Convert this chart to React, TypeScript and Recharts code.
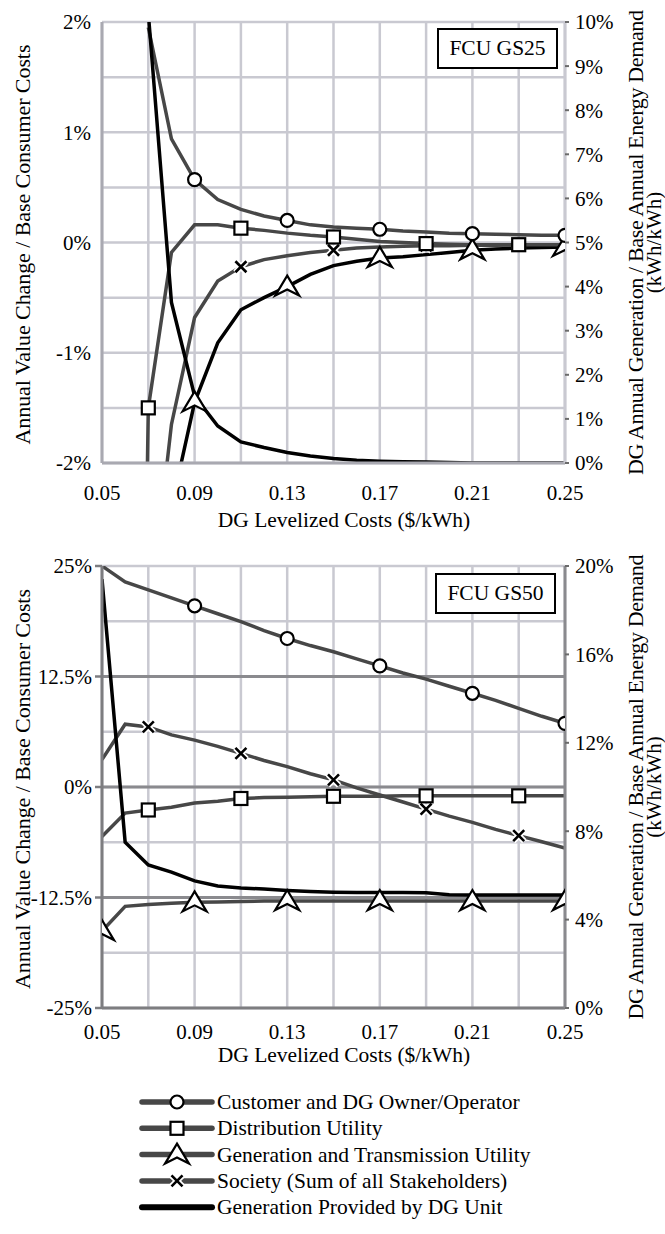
import React from "react";
import { LineChart, Line, XAxis, YAxis, CartesianGrid, Legend } from "recharts";

// DG levelized cost ($/kWh)
const costs = [
  0.05, 0.06, 0.07, 0.08, 0.09, 0.1, 0.11, 0.12, 0.13, 0.14, 0.15, 0.16, 0.17, 0.18, 0.19, 0.2, 0.21,
  0.22, 0.23, 0.24, 0.25,
];

// FCU GS25: annual value change / base consumer costs (%), generation in % of base demand
const gs25Customer = [null, null, 1.95, 0.94, 0.57, 0.39, 0.3, 0.24, 0.2, 0.16, 0.14, 0.13, 0.12, 0.105, 0.095, 0.085, 0.08, 0.075, 0.07, 0.065, 0.065];
const gs25Distribution = [null, -15, -1.5, -0.09, 0.16, 0.16, 0.13, 0.11, 0.085, 0.065, 0.05, 0.03, 0.01, 0, -0.01, -0.015, -0.02, -0.02, -0.02, -0.02, -0.02];
const gs25Transmission = [null, null, -4.0, -2.4, -1.45, -0.91, -0.61, -0.5, -0.4, -0.29, -0.21, -0.17, -0.14, -0.13, -0.11, -0.09, -0.07, -0.06, -0.05, -0.045, -0.04];
const gs25Society = [null, null, -3.5, -1.65, -0.68, -0.35, -0.22, -0.155, -0.12, -0.09, -0.07, -0.05, -0.04, -0.035, -0.03, -0.03, -0.025, -0.025, -0.02, -0.02, -0.02];
const gs25Generation = [null, null, 10.2, 3.64, 1.52, 0.84, 0.48, 0.35, 0.24, 0.16, 0.1, 0.06, 0.04, 0.03, 0.02, 0.01, 0, 0, 0, 0, 0];

// FCU GS50
const gs50Customer = [25.0, 23.2, 22.3, 21.4, 20.5, 19.6, 18.7, 17.7, 16.8, 16.0, 15.3, 14.5, 13.7, 12.9, 12.2, 11.4, 10.6, 9.8, 8.9, 8.0, 7.2];
const gs50Distribution = [-5.6, -2.95, -2.6, -2.3, -1.8, -1.6, -1.3, -1.2, -1.15, -1.1, -1.05, -1.05, -1.05, -1.0, -1.0, -1.0, -1.0, -1.0, -1.0, -1.0, -1.0];
const gs50Transmission = [-16.3, -13.5, -13.3, -13.15, -13.05, -13.0, -12.95, -12.9, -12.9, -12.9, -12.9, -12.9, -12.9, -12.9, -12.9, -12.9, -12.9, -12.9, -12.9, -12.9, -12.9];
const gs50Society = [3.1, 7.1, 6.8, 5.9, 5.3, 4.6, 3.8, 3.0, 2.3, 1.5, 0.8, -0.1, -0.9, -1.7, -2.5, -3.3, -4.0, -4.8, -5.5, -6.2, -6.9];
const gs50Generation = [19.4, 7.5, 6.47, 6.15, 5.75, 5.52, 5.43, 5.38, 5.32, 5.27, 5.24, 5.23, 5.23, 5.23, 5.22, 5.13, 5.11, 5.11, 5.11, 5.11, 5.11];

// where the markers sit on each curve
const circleAt = [0.09, 0.13, 0.17, 0.21, 0.25];
const squareAt = [0.07, 0.11, 0.15, 0.19, 0.23];
const gs25TriangleAt = [0.09, 0.13, 0.17, 0.21, 0.25];
const gs50TriangleAt = [0.05, 0.09, 0.13, 0.17, 0.21, 0.25];
const gs25CrossAt = [0.11, 0.15, 0.19, 0.23];
const gs50CrossAt = [0.07, 0.11, 0.15, 0.19, 0.23];

const xTicks = [0.05, 0.09, 0.13, 0.17, 0.21, 0.25];
const xGrid = [0.05, 0.07, 0.09, 0.11, 0.13, 0.15, 0.17, 0.19, 0.21, 0.23, 0.25];

const gs25LeftTicks = [-2, -1, 0, 1, 2];
const gs25LeftGrid = [-2, -1.5, -1, -0.5, 0, 0.5, 1, 1.5, 2];
const gs25RightTicks = [0, 1, 2, 3, 4, 5, 6, 7, 8, 9, 10];

const gs50LeftTicks = [-25, -12.5, 0, 12.5, 25];
const gs50LeftGrid = [-25, -18.75, -12.5, -6.25, 0, 6.25, 12.5, 18.75, 25];
const gs50LeftMajor = [-12.5, 0, 12.5];
const gs50RightTicks = [0, 4, 8, 12, 16, 20];

const legendNames: Record<string, string> = {
  customer: "Customer and DG Owner/Operator",
  distribution: "Distribution Utility",
  transmission: "Generation and Transmission Utility",
  society: "Society (Sum of all Stakeholders)",
  generation: "Generation Provided by DG Unit",
};
const legendOrder = ["customer", "distribution", "transmission", "society", "generation"];

const FONT = "Liberation Serif, DejaVu Serif, serif";
const SERIES_GRAY = "#474747";
const GRID_LIGHT = "#c9c9d1";

type MarkerKind = "circle" | "square" | "triangle" | "cross" | "none";

const markerOf: Record<string, MarkerKind> = {
  customer: "circle",
  distribution: "square",
  transmission: "triangle",
  society: "cross",
  generation: "none",
};

function Marker({ kind, cx, cy }: { kind: MarkerKind; cx: number; cy: number }) {
  if (kind === "circle") {
    return <circle cx={cx} cy={cy} r={6.5} fill="#fff" stroke="#000" strokeWidth={2.2} />;
  }
  if (kind === "square") {
    return <rect x={cx - 6.5} y={cy - 6.5} width={13} height={13} fill="#fff" stroke="#000" strokeWidth={2.2} />;
  }
  if (kind === "triangle") {
    return (
      <path
        d={`M${cx},${cy - 11} L${cx + 12},${cy + 9} L${cx},${cy + 3} L${cx - 12},${cy + 9} Z`}
        fill="#fff"
        stroke="#000"
        strokeWidth={2.2}
        strokeLinejoin="miter"
      />
    );
  }
  if (kind === "cross") {
    const d = `M${cx - 5.5},${cy - 5.5} L${cx + 5.5},${cy + 5.5} M${cx + 5.5},${cy - 5.5} L${cx - 5.5},${cy + 5.5}`;
    return (
      <g>
        <path d={d} stroke="#fff" strokeWidth={6} />
        <path d={d} stroke="#000" strokeWidth={2.6} />
      </g>
    );
  }
  return <g />;
}

const makeDot = (kind: MarkerKind, at: number[]) => (props: any) => {
  const { cx, cy, payload, index } = props;
  const key = `${kind}-${index}`;
  if (cx == null || cy == null || payload == null) return <g key={key} />;
  if (!at.some((c) => Math.abs(c - payload.cost) < 1e-6)) return <g key={key} />;
  return (
    <g key={key}>
      <Marker kind={kind} cx={cx} cy={cy} />
    </g>
  );
};

function LegendContent(props: any) {
  const items = [...(props.payload ?? [])].sort(
    (a: any, b: any) => legendOrder.indexOf(a.dataKey) - legendOrder.indexOf(b.dataKey)
  );
  return (
    <svg width={665} height={140} style={{ display: "block" }}>
      {items.map((it: any, i: number) => {
        const y = 14 + i * 26.3;
        const isGen = it.dataKey === "generation";
        return (
          <g key={it.dataKey}>
            <line x1={142} x2={212} y1={y} y2={y} stroke={isGen ? "#000" : SERIES_GRAY} strokeWidth={isGen ? 6 : 5.5} strokeLinecap="round" />
            <Marker kind={markerOf[it.dataKey]} cx={177} cy={y} />
            <text x={217} y={y} dominantBaseline="central" fontFamily={FONT} fontSize={21.5} fill="#000">
              {legendNames[it.dataKey]}
            </text>
          </g>
        );
      })}
    </svg>
  );
}

type PanelProps = {
  top: number;
  height: number;
  marginTop: number;
  customer: (number | null)[];
  distribution: (number | null)[];
  transmission: (number | null)[];
  society: (number | null)[];
  generation: (number | null)[];
  leftDomain: [number, number];
  leftTicks: number[];
  leftGrid: number[];
  leftMajor: number[];
  rightDomain: [number, number];
  rightTicks: number[];
  triangleAt: number[];
  crossAt: number[];
  axisColor: string;
  rightAxisColor: string;
  leftTickLine: boolean;
  xTickMargin: number;
  xTitleOffset: number;
  boxLabel: string;
  boxLeft: number;
  boxTop: number;
  withLegend: boolean;
};

function Panel(p: PanelProps) {
  const rows = costs.map((c, i) => ({
    cost: c,
    customer: p.customer[i],
    distribution: p.distribution[i],
    transmission: p.transmission[i],
    society: p.society[i],
    generation: p.generation[i],
  }));

  const xAxisHeight = 60;
  const marginBottom = p.withLegend ? p.height - p.marginTop - 442 - xAxisHeight : p.height - p.marginTop - 441 - xAxisHeight;
  const plotTop = p.marginTop;
  const plotBottom = p.height - marginBottom - xAxisHeight;
  const plotMid = (plotTop + plotBottom) / 2;
  const tickStyle = { fill: "#000", fontSize: 21, fontFamily: FONT };

  return (
    <div style={{ position: "absolute", left: 0, top: p.top, width: 665, height: p.height }}>
      <LineChart
        width={665}
        height={p.height}
        data={rows}
        margin={{ top: p.marginTop, right: 40, bottom: marginBottom, left: 12 }}
        style={{ fontFamily: FONT }}
      >
        <CartesianGrid horizontalValues={p.leftGrid} verticalValues={xGrid} stroke={GRID_LIGHT} strokeWidth={2.5} />
        {p.leftMajor.length > 0 && (
          <CartesianGrid horizontalValues={p.leftMajor} vertical={false} stroke="#8a8a8e" strokeWidth={3} />
        )}
        <XAxis
          dataKey="cost"
          type="number"
          domain={[0.05, 0.25]}
          ticks={xTicks}
          allowDataOverflow
          tickFormatter={(v: number) => v.toFixed(2)}
          tick={tickStyle}
          tickLine={false}
          tickMargin={p.xTickMargin}
          height={xAxisHeight}
          axisLine={{ stroke: p.axisColor, strokeWidth: 3 }}
          label={{
            content: () => (
              <text
                x={344}
                y={plotBottom + p.xTitleOffset}
                textAnchor="middle"
                dominantBaseline="central"
                style={{ fontFamily: FONT }}
                fontSize={21.5}
                fill="#000"
              >
                DG Levelized Costs ($/kWh)
              </text>
            ),
          }}
        />
        <YAxis
          domain={p.leftDomain}
          ticks={p.leftTicks}
          allowDataOverflow
          width={90}
          tickFormatter={(v: number) => `${v}%`}
          tick={tickStyle}
          tickLine={p.leftTickLine ? { stroke: p.axisColor, strokeWidth: 2.5 } : false}
          tickSize={p.leftTickLine ? 7 : 6}
          tickMargin={p.leftTickLine ? 3 : 5}
          axisLine={{ stroke: p.axisColor, strokeWidth: 3 }}
          label={{
            content: () => (
              <text
                x={22}
                y={plotMid + 2}
                transform={`rotate(-90, 22, ${plotMid + 2})`}
                textAnchor="middle"
                dominantBaseline="central"
                style={{ fontFamily: FONT }}
                fontSize={22}
                textLength={400}
                fill="#000"
              >
                Annual Value Change / Base Consumer Costs
              </text>
            ),
          }}
        />
        <YAxis
          yAxisId="right"
          orientation="right"
          domain={p.rightDomain}
          ticks={p.rightTicks}
          allowDataOverflow
          width={60}
          tickFormatter={(v: number) => `${v}%`}
          tick={tickStyle}
          tickLine={{ stroke: "#6b6b6b", strokeWidth: 2 }}
          tickSize={4}
          tickMargin={6}
          axisLine={{ stroke: p.rightAxisColor, strokeWidth: 3 }}
          label={{
            content: () => (
              <g>
                <text
                  x={635}
                  y={plotMid}
                  transform={`rotate(-90, 635, ${plotMid})`}
                  textAnchor="middle"
                  dominantBaseline="central"
                  style={{ fontFamily: FONT }}
                  fontSize={22}
                  textLength={465}
                  fill="#000"
                >
                  DG Annual Generation / Base Annual Energy Demand
                </text>
                <text
                  x={654}
                  y={plotMid}
                  transform={`rotate(-90, 654, ${plotMid})`}
                  textAnchor="middle"
                  dominantBaseline="central"
                  style={{ fontFamily: FONT }}
                  fontSize={21}
                  fill="#000"
                >
                  (kWh/kWh)
                </text>
              </g>
            ),
          }}
        />
        <Line
          dataKey="society"
          name={legendNames.society}
          stroke={SERIES_GRAY}
          strokeWidth={3.5}
          dot={makeDot("cross", p.crossAt)}
          activeDot={false}
          isAnimationActive={false}
        />
        <Line
          dataKey="transmission"
          name={legendNames.transmission}
          stroke={p.withLegend ? SERIES_GRAY : "#000"}
          strokeWidth={3.5}
          dot={makeDot("triangle", p.triangleAt)}
          activeDot={false}
          isAnimationActive={false}
        />
        <Line
          dataKey="distribution"
          name={legendNames.distribution}
          stroke={SERIES_GRAY}
          strokeWidth={3.5}
          dot={makeDot("square", squareAt)}
          activeDot={false}
          isAnimationActive={false}
        />
        <Line
          dataKey="customer"
          name={legendNames.customer}
          stroke={SERIES_GRAY}
          strokeWidth={3.5}
          dot={makeDot("circle", circleAt)}
          activeDot={false}
          isAnimationActive={false}
        />
        <Line
          dataKey="generation"
          yAxisId="right"
          name={legendNames.generation}
          stroke="#000"
          strokeWidth={3.5}
          dot={false}
          activeDot={false}
          isAnimationActive={false}
        />
        {p.withLegend && (
          <Legend
            layout="vertical"
            align="center"
            verticalAlign="middle"
            content={LegendContent}
            wrapperStyle={{ position: "absolute", left: 0, top: 548, width: 665, height: 140, fontFamily: FONT }}
          />
        )}
      </LineChart>
      <div
        style={{
          position: "absolute",
          left: p.boxLeft,
          top: p.boxTop - p.top,
          width: 121,
          height: 41,
          boxSizing: "border-box",
          border: "2.5px solid #000",
          background: "#fff",
          fontFamily: FONT,
          fontSize: 21.5,
          display: "flex",
          alignItems: "center",
          justifyContent: "center",
        }}
      >
        {p.boxLabel}
      </div>
    </div>
  );
}

export default function App() {
  return (
    <div style={{ position: "absolute", left: 0, top: 0, width: 665, height: 1234, background: "#fff", fontFamily: FONT }}>
      <Panel
        top={0}
        height={540}
        marginTop={22}
        customer={gs25Customer}
        distribution={gs25Distribution}
        transmission={gs25Transmission}
        society={gs25Society}
        generation={gs25Generation}
        leftDomain={[-2, 2]}
        leftTicks={gs25LeftTicks}
        leftGrid={gs25LeftGrid}
        leftMajor={[]}
        rightDomain={[0, 10]}
        rightTicks={gs25RightTicks}
        triangleAt={gs25TriangleAt}
        crossAt={gs25CrossAt}
        axisColor="#a9a9b1"
        rightAxisColor={GRID_LIGHT}
        leftTickLine={false}
        xTickMargin={16}
        xTitleOffset={57}
        boxLabel="FCU GS25"
        boxLeft={437}
        boxTop={28}
        withLegend={false}
      />
      <Panel
        top={540}
        height={694}
        marginTop={26}
        customer={gs50Customer}
        distribution={gs50Distribution}
        transmission={gs50Transmission}
        society={gs50Society}
        generation={gs50Generation}
        leftDomain={[-25, 25]}
        leftTicks={gs50LeftTicks}
        leftGrid={gs50LeftGrid}
        leftMajor={gs50LeftMajor}
        rightDomain={[0, 20]}
        rightTicks={gs50RightTicks}
        triangleAt={gs50TriangleAt}
        crossAt={gs50CrossAt}
        axisColor="#7d7d80"
        rightAxisColor="#8a8a8e"
        leftTickLine={true}
        xTickMargin={10}
        xTitleOffset={47}
        boxLabel="FCU GS50"
        boxLeft={435}
        boxTop={573}
        withLegend={true}
      />
    </div>
  );
}
